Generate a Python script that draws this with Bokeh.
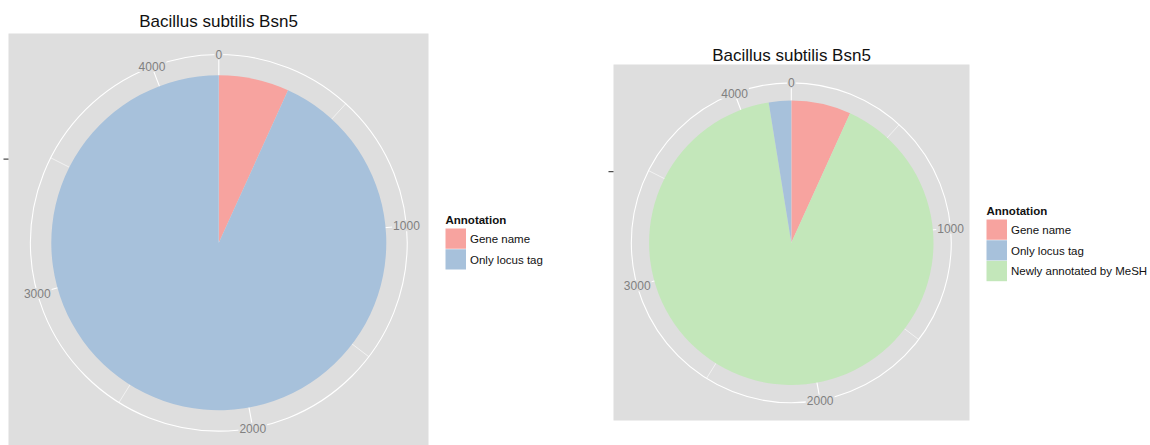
import math
from bokeh.plotting import figure
from bokeh.models import Range1d
from bokeh.core.properties import value
from bokeh.embed import file_html
from bokeh.resources import INLINE

# ---------------- data ----------------
title = "Bacillus subtilis Bsn5"
legend_title = "Annotation"
left_categories = ["Gene name", "Only locus tag"]
left_values = [288, 3957]
right_categories = ["Gene name", "Newly annotated by MeSH", "Only locus tag"]
right_values = [288, 3849, 108]
legend_order_right = ["Gene name", "Only locus tag", "Newly annotated by MeSH"]
major_breaks = [0, 1000, 2000, 3000, 4000]
minor_breaks = [500, 1500, 2500, 3500]

colors = {"Gene name": "#F7A39F", "Only locus tag": "#A7C1DB",
          "Newly annotated by MeSH": "#C3E7BA"}

BG = "#DEDEDE"
FONT = value("Liberation Sans")

W, H = 1150, 445
p = figure(width=W, height=H, output_backend="svg", toolbar_location=None,
           x_range=Range1d(0, W), y_range=Range1d(0, H),
           min_border=0, outline_line_color=None)
p.axis.visible = False
p.grid.visible = False
p.background_fill_color = "white"
p.border_fill_color = "white"


def Y(ys):
    return 445 - ys


def panel(x0, x1, y0, y1, cx, cy, r, cats, vals, tx, ty, lx, ly, lcats, r_tick_x):
    # panel background
    p.quad(left=[x0], right=[x1], top=[Y(y0)], bottom=[Y(y1)],
           fill_color=BG, line_color=None)
    total = float(sum(vals))
    rc = r * 1.125

    def ang(v):
        return 2 * math.pi * v / total
    # grid spokes
    for b in minor_breaks:
        a = ang(b)
        p.segment(x0=[cx], y0=[Y(cy)], x1=[cx + rc * math.sin(a)],
                  y1=[Y(cy) + rc * math.cos(a)], line_color="white", line_width=0.6)
    for b in major_breaks:
        a = ang(b)
        p.segment(x0=[cx], y0=[Y(cy)], x1=[cx + rc * math.sin(a)],
                  y1=[Y(cy) + rc * math.cos(a)], line_color="white", line_width=1.1)
    # outer circle
    p.circle(x=[cx], y=[Y(cy)], radius=rc, fill_color=None,
             line_color="white", line_width=1.1)
    # pie slices (clockwise from top)
    cum = 0.0
    for c, v in zip(cats, vals):
        a0 = ang(cum)
        a1 = ang(cum + v)
        p.wedge(x=[cx], y=[Y(cy)], radius=r,
                start_angle=math.pi / 2 - a1, end_angle=math.pi / 2 - a0,
                direction="anticlock", fill_color=colors[c], line_color=None)
        cum += v
    # theta labels
    xs, ys, ts = [], [], []
    for b in major_breaks:
        a = ang(b)
        xs.append(cx + rc * math.sin(a))
        ys.append(Y(cy) + rc * math.cos(a))
        ts.append(str(b))
    p.text(x=xs, y=ys, text=ts, text_font=FONT, text_font_size="12px",
           text_color="#808080", text_align="center", text_baseline="middle",
           background_fill_color=BG, padding=1)
    # r-axis tick
    p.segment(x0=[r_tick_x - 5], y0=[Y(cy - r / 2)], x1=[r_tick_x],
              y1=[Y(cy - r / 2)], line_color="#4D4D4D", line_width=1.2)
    # title
    p.text(x=[tx], y=[Y(ty)], text=[title], text_font=FONT,
           text_font_size="17px", text_color="#111111",
           text_align="center", text_baseline="middle")
    # legend
    p.text(x=[lx], y=[Y(ly)], text=[legend_title], text_font=FONT,
           text_font_size="11.5px", text_font_style="bold", text_color="#111111",
           text_align="left", text_baseline="middle")
    ky = ly + 9
    for c in lcats:
        p.quad(left=[lx], right=[lx + 20.5], top=[Y(ky)], bottom=[Y(ky + 20.3)],
               fill_color=colors[c], line_color=None)
        p.text(x=[lx + 24.5], y=[Y(ky + 10.5)], text=[c], text_font=FONT,
               text_font_size="11.5px", text_color="#111111",
               text_align="left", text_baseline="middle")
        ky += 20.7


panel(8, 428, 33, 445, 218.3, 242.3, 167.5, left_categories, left_values,
      218, 21, 445, 219, left_categories, 8)
panel(613, 969, 64, 420, 790.8, 242.3, 142.2, right_categories, right_values,
      791, 55, 986, 210, legend_order_right, 613)

open("out.html", "w").write(file_html(p, INLINE))
